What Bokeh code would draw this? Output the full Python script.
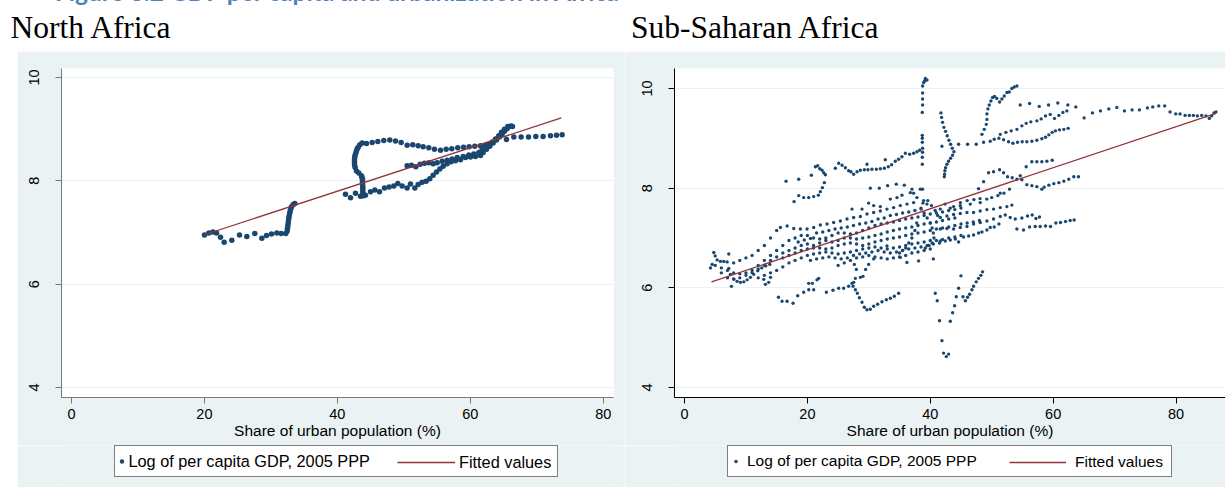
from bokeh.plotting import figure
from bokeh.models import Range1d, FixedTicker, Legend, LegendItem, Div
from bokeh.layouts import column, row
from bokeh.embed import file_html
from bokeh.resources import INLINE

# ---------------- text ----------------
CAPTION = "Figure 3.2 GDP per capita and urbanization in Africa"
TITLE_NA = "North Africa"
TITLE_SSA = "Sub-Saharan Africa"
X_LABEL = "Share of urban population (%)"
SERIES_LABEL = "Log of per capita GDP, 2005 PPP"
FIT_LABEL = "Fitted values"

X_TICKS = [0, 20, 40, 60, 80]
Y_TICKS = [4, 6, 8, 10]

# ---------------- North Africa data (urban share %, log GDP pc) ----------------
na_low = [(20.01, 6.95), (20.66, 6.99), (21.27, 7.01), (21.82, 6.99), (22.42, 6.91), (22.97, 6.81),
          (24.12, 6.85), (25.28, 6.95), (26.38, 6.92), (27.58, 6.98), (28.64, 6.89), (29.34, 6.94),
          (30.09, 6.97), (30.89, 6.99), (31.55, 6.98), (32.25, 6.98), (32.45, 7.03), (32.50, 7.08),
          (32.55, 7.13), (32.60, 7.18), (32.65, 7.23), (32.70, 7.28), (32.75, 7.32), (32.83, 7.37),
          (32.91, 7.42), (33.00, 7.46), (33.10, 7.50), (33.36, 7.54), (33.60, 7.56)]
na_loop = [(43.88, 7.71), (43.85, 7.75), (43.83, 7.79), (43.83, 7.83), (43.83, 7.87), (43.80, 7.91),
           (43.78, 7.95), (43.78, 7.99), (43.78, 8.03), (43.70, 8.07), (43.63, 8.10), (43.23, 8.15),
           (42.88, 8.19), (42.68, 8.26), (42.60, 8.30), (42.58, 8.34), (42.58, 8.38), (42.58, 8.42),
           (42.62, 8.46), (42.68, 8.50), (42.78, 8.54), (42.88, 8.58), (43.00, 8.62), (43.13, 8.65),
           (43.38, 8.70), (43.73, 8.73), (44.38, 8.72), (45.24, 8.74), (46.09, 8.76), (46.99, 8.78),
           (47.89, 8.79), (48.75, 8.77), (49.60, 8.74), (50.50, 8.69), (51.35, 8.70), (52.16, 8.68),
           (52.91, 8.66), (53.76, 8.64), (54.61, 8.61), (55.52, 8.59), (56.37, 8.61), (57.22, 8.62),
           (58.12, 8.64), (58.98, 8.65), (59.83, 8.66), (60.68, 8.67), (61.54, 8.68), (62.29, 8.69),
           (65.45, 8.80), (66.55, 8.85), (67.65, 8.85), (68.76, 8.85), (69.86, 8.86), (70.96, 8.86),
           (72.07, 8.87), (72.97, 8.88), (73.82, 8.89)]
na_rise = [(41.22, 7.74), (41.98, 7.67), (42.73, 7.76), (43.48, 7.70), (44.23, 7.72), (44.99, 7.79),
           (45.64, 7.82), (46.34, 7.79), (47.09, 7.86), (47.79, 7.88), (48.50, 7.90), (49.10, 7.95),
           (49.75, 7.90), (50.50, 7.86), (51.00, 7.94), (51.66, 7.86), (52.16, 7.93), (52.76, 7.97),
           (53.36, 7.99), (53.91, 8.04), (54.41, 8.11), (54.92, 8.17), (55.42, 8.23), (55.92, 8.28),
           (56.52, 8.33), (57.12, 8.37), (57.77, 8.39), (58.53, 8.41), (59.28, 8.45), (60.03, 8.46),
           (60.78, 8.47), (61.54, 8.49), (61.94, 8.55), (62.44, 8.61), (62.94, 8.67), (63.44, 8.73),
           (63.94, 8.79), (64.39, 8.85), (64.79, 8.90), (65.14, 8.96), (65.55, 9.01), (65.95, 9.05),
           (66.35, 9.05)]
na_mid = [(50.50, 8.29), (51.16, 8.30), (51.81, 8.27), (52.46, 8.32), (53.11, 8.34), (53.76, 8.35),
          (54.41, 8.33), (55.02, 8.35), (55.77, 8.38), (56.52, 8.40), (57.27, 8.42), (58.03, 8.45),
          (58.93, 8.47), (59.78, 8.50), (60.53, 8.52), (61.29, 8.55), (61.79, 8.61), (62.29, 8.66),
          (62.79, 8.71), (63.29, 8.75), (63.79, 8.81), (64.29, 8.87), (64.69, 8.94), (65.14, 9.00),
          (65.65, 9.05), (66.15, 9.06)]
na_fit_x = [20.0, 73.7]
na_fit_y = [6.956, 9.217]

# ---------------- Sub-Saharan Africa data ----------------
ssa_col39 = [(39.19, 10.20), (39.46, 10.17), (39.08, 10.15), (38.92, 10.12), (38.75, 10.05), (38.75, 9.91),
             (38.75, 9.79), (38.75, 9.67), (38.70, 9.52), (38.70, 9.06), (38.70, 9.00), (38.70, 8.92),
             (38.75, 8.80), (38.75, 8.72), (38.70, 8.62), (38.70, 8.48)]
ssa_curve42 = [(41.73, 9.51), (41.84, 9.42), (42.00, 9.32), (42.22, 9.22), (42.49, 9.14), (42.76, 9.05),
               (43.04, 8.96), (43.31, 8.88), (43.58, 8.80), (43.85, 8.73), (43.63, 8.66), (43.31, 8.60),
               (42.98, 8.54), (42.71, 8.48), (42.49, 8.41), (42.38, 8.35), (42.33, 8.28), (42.28, 8.23),
               (41.90, 8.84)]
ssa_loop22 = [(16.53, 8.14), (18.59, 8.18), (20.65, 8.26), (21.30, 8.43), (21.68, 8.45), (22.01, 8.39),
              (22.39, 8.36), (22.66, 8.31), (22.93, 8.27), (22.76, 8.11), (22.44, 8.01), (22.11, 7.93),
              (21.79, 7.86), (21.03, 7.83), (20.22, 7.81), (19.40, 7.81), (18.59, 7.85), (17.83, 7.73)]
ssa_row84 = [(24.55, 8.40), (25.10, 8.50), (25.64, 8.46), (26.18, 8.41), (26.72, 8.35), (27.10, 8.33),
             (27.53, 8.28), (28.08, 8.33), (28.62, 8.36), (29.27, 8.37), (29.86, 8.37), (30.51, 8.38),
             (31.22, 8.38), (31.87, 8.39), (32.52, 8.40), (33.17, 8.43), (33.71, 8.47), (34.31, 8.54),
             (34.85, 8.58), (35.39, 8.63), (35.94, 8.70), (36.64, 8.68), (37.29, 8.70), (37.83, 8.73),
             (38.27, 8.76), (29.70, 8.48), (32.68, 8.57)]
ssa_hi50 = [(48.41, 9.08), (48.78, 9.18), (49.11, 9.28), (49.22, 9.38), (49.22, 9.49), (49.38, 9.59),
            (49.60, 9.67), (49.87, 9.75), (50.14, 9.82), (50.46, 9.84), (50.84, 9.80), (51.28, 9.73),
            (51.66, 9.79), (52.04, 9.85), (52.47, 9.92), (52.85, 9.93), (53.28, 10.00), (53.66, 10.03),
            (54.10, 10.05)]
ssa_row90 = [(44.61, 8.88), (46.07, 8.88), (47.48, 8.88), (48.68, 8.92), (49.76, 8.94), (50.41, 8.98),
             (51.17, 9.00), (51.93, 8.97), (52.74, 8.93), (53.45, 8.90), (54.20, 8.92), (54.96, 8.93),
             (55.72, 8.93), (56.54, 8.94), (57.35, 8.96), (58.16, 8.99), (58.76, 9.02), (59.30, 9.07),
             (59.84, 9.12), (60.38, 9.15), (61.03, 9.17), (61.74, 9.18), (62.44, 9.20)]
ssa_rise92 = [(51.39, 9.08), (52.31, 9.12), (53.17, 9.15), (54.10, 9.18), (54.91, 9.25), (55.61, 9.30),
              (56.37, 9.33), (57.35, 9.35), (58.05, 9.39), (58.76, 9.45), (59.52, 9.48), (60.22, 9.40),
              (60.93, 9.46), (61.58, 9.52), (62.23, 9.55)]
ssa_top97 = [(54.64, 9.67), (56.16, 9.70), (57.73, 9.64), (59.25, 9.67), (60.76, 9.71), (62.39, 9.67),
             (63.69, 9.63)]
ssa_far = [(65.04, 9.41), (66.40, 9.51), (67.70, 9.55), (69.06, 9.59), (70.36, 9.62), (71.60, 9.55),
           (72.85, 9.57), (74.04, 9.57), (75.34, 9.61), (76.21, 9.63), (77.19, 9.65), (78.16, 9.65),
           (79.03, 9.53), (79.95, 9.49), (80.65, 9.49), (81.47, 9.46), (82.17, 9.46), (82.82, 9.46),
           (83.47, 9.45), (84.18, 9.46), (84.88, 9.45), (85.42, 9.40), (85.80, 9.45), (86.18, 9.51),
           (86.50, 9.53)]
ssa_mid55 = [(56.53, 8.53), (57.35, 8.53), (58.16, 8.53), (58.98, 8.54), (59.84, 8.56), (55.61, 8.43),
             (54.64, 8.25), (49.49, 8.31), (50.30, 8.33), (51.28, 8.37), (51.93, 8.31), (52.58, 8.23),
             (53.34, 8.21), (54.10, 8.18), (54.91, 8.17), (55.72, 8.07), (56.54, 8.05), (57.35, 8.03),
             (58.16, 7.98), (58.54, 8.02), (59.30, 8.06), (60.11, 8.09), (60.93, 8.11), (61.74, 8.14),
             (62.55, 8.18), (63.36, 8.23), (64.12, 8.23), (48.68, 8.13), (47.86, 7.99), (52.90, 7.98),
             (51.39, 7.90)]
ssa_low_right = [(54.10, 7.18), (55.18, 7.16), (56.16, 7.22), (57.08, 7.23), (57.89, 7.23), (58.76, 7.24),
                 (59.57, 7.23), (60.44, 7.30), (61.20, 7.31), (62.01, 7.33), (62.77, 7.35), (63.42, 7.36),
                 (53.01, 7.41), (53.83, 7.38), (54.91, 7.40), (55.83, 7.44), (56.59, 7.46), (57.19, 7.39),
                 (57.78, 7.42)]
ssa_rows42 = [(41.63, 6.94), (42.44, 6.94), (43.26, 6.96), (44.07, 6.98), (44.61, 6.92), (45.42, 7.02),
              (46.24, 7.04), (47.05, 7.06), (47.86, 7.10), (48.41, 7.12), (49.22, 7.16), (49.76, 7.21),
              (50.41, 7.22), (51.17, 7.28), (41.63, 7.18), (42.71, 7.19), (43.80, 7.18), (44.88, 7.21),
              (45.97, 7.23), (47.05, 7.28), (48.13, 7.31), (49.22, 7.34), (50.30, 7.38), (51.39, 7.43),
              (52.20, 7.46), (41.63, 7.41), (42.71, 7.44), (43.80, 7.47), (44.88, 7.49), (45.97, 7.51),
              (47.05, 7.51), (48.13, 7.54), (49.22, 7.57), (50.30, 7.58), (51.39, 7.61), (52.47, 7.63),
              (53.28, 7.66), (41.63, 7.58), (43.26, 7.60), (44.88, 7.65), (46.51, 7.68), (48.13, 7.71),
              (42.40, 7.68), (43.80, 7.63), (44.90, 7.71), (46.00, 7.75), (47.10, 7.77), (48.10, 7.79),
              (49.20, 7.78), (50.00, 7.81), (51.00, 7.85), (52.00, 7.90)]
ssa_drop = [(44.99, 6.24), (44.61, 5.99), (44.23, 5.82), (43.96, 5.64), (43.64, 5.50), (43.26, 5.33),
            (41.90, 4.94), (42.17, 4.69), (42.61, 4.62), (42.99, 4.67), (45.32, 5.82), (45.70, 5.74),
            (46.07, 5.81), (46.40, 5.87), (46.78, 5.96), (47.05, 6.03), (47.48, 6.12), (47.86, 6.19),
            (48.24, 6.25), (48.51, 6.32), (40.81, 5.89), (41.13, 5.74), (41.50, 5.34)]
ssa_hook = [(27.53, 6.11), (27.43, 6.03), (27.81, 5.96), (28.13, 5.89), (28.46, 5.80), (28.89, 5.71),
            (29.27, 5.61), (29.70, 5.56), (30.24, 5.57), (30.79, 5.63), (31.44, 5.67), (32.14, 5.72),
            (32.85, 5.76), (33.50, 5.79), (34.15, 5.83), (34.85, 5.89)]
ssa_low_row = [(20.22, 6.09), (20.81, 6.09), (21.57, 6.16), (21.84, 6.19), (21.03, 5.96), (20.22, 5.96),
               (19.40, 5.91), (18.43, 5.84), (17.67, 5.69), (16.69, 5.73), (15.88, 5.73), (15.29, 5.81),
               (23.09, 5.91), (24.17, 5.95), (25.09, 5.99), (25.91, 5.99), (26.72, 6.03), (27.26, 6.09),
               (27.81, 6.19), (28.62, 6.21), (29.05, 6.23), (29.48, 6.37), (29.97, 6.47), (30.79, 6.58),
               (27.64, 6.47), (27.97, 6.37), (7.64, 6.03), (13.71, 6.11), (13.17, 6.07), (14.00, 6.21),
               (12.90, 6.17)]
ssa_left = [(4.77, 6.71), (4.99, 6.64), (5.31, 6.56), (5.85, 6.53), (6.40, 6.53), (4.50, 6.47), (4.23, 6.40),
            (7.21, 6.68), (6.94, 6.52), (7.21, 6.39), (7.48, 6.27), (8.02, 6.17), (8.56, 6.13), (9.11, 6.11),
            (9.65, 6.12), (10.19, 6.16), (10.73, 6.21), (11.27, 6.27), (11.92, 6.34), (12.57, 6.40),
            (13.23, 6.44), (13.88, 6.47)]
ssa_band_top = [(15.61, 7.21), (16.70, 7.24), (17.78, 7.19), (18.86, 7.18), (19.95, 7.18), (21.03, 7.21),
                (22.11, 7.26), (23.20, 7.28), (24.28, 7.31), (25.37, 7.34), (26.45, 7.38), (27.53, 7.41),
                (28.62, 7.43), (29.70, 7.48), (30.79, 7.51), (31.87, 7.54), (32.95, 7.58), (34.04, 7.61),
                (35.12, 7.65), (36.21, 7.68), (37.29, 7.71), (8.0, 6.50), (9.0, 6.55), (10.0, 6.60),
                (11.0, 6.65), (12.0, 6.75), (13.0, 6.85), (14.0, 7.00), (15.0, 7.15)]
ssa_band_b = [(5, 6.45), (6, 6.40), (7, 6.35), (8, 6.30), (9, 6.28), (10, 6.30), (11, 6.35), (12, 6.45),
              (13, 6.55), (14, 6.65), (15, 6.75), (16, 6.85), (17, 6.95), (18, 7.00), (19, 7.05), (20, 7.05),
              (21, 7.00), (22, 6.98), (23, 7.00), (24, 7.05), (25, 7.10), (26, 7.10), (27, 7.08), (28, 7.10),
              (29, 7.15), (30, 7.20), (31, 7.25), (32, 7.28), (33, 7.30), (34, 7.32), (35, 7.35), (36, 7.38),
              (37, 7.40), (38, 7.42), (39, 7.45), (40, 7.48), (41, 7.50), (42, 7.52), (43, 7.55), (44, 7.57),
              (45, 7.60)]
ssa_band_c = [(6, 6.30), (7, 6.20), (8, 6.18), (9, 6.20), (10, 6.25), (11, 6.30), (12, 6.38), (13, 6.45),
              (14, 6.55), (15, 6.62), (16, 6.70), (17, 6.75), (18, 6.80), (19, 6.85), (20, 6.88), (21, 6.85),
              (22, 6.80), (23, 6.78), (24, 6.80), (25, 6.85), (26, 6.88), (27, 6.90), (28, 6.88), (29, 6.85),
              (30, 6.88), (31, 6.92), (32, 6.95), (33, 6.98), (34, 7.00), (35, 7.02), (36, 7.05), (37, 7.08),
              (38, 7.10), (39, 7.12), (40, 7.15), (41, 7.18), (42, 7.20), (43, 7.22), (44, 7.25), (45, 7.28),
              (46, 7.30), (47, 7.32), (48, 7.35)]
ssa_band_d = [(12, 6.20), (13, 6.25), (14, 6.30), (15, 6.35), (16, 6.42), (17, 6.50), (18, 6.55), (19, 6.60),
              (20, 6.65), (21, 6.68), (22, 6.70), (23, 6.72), (24, 6.70), (25, 6.68), (26, 6.70), (27, 6.72),
              (28, 6.75), (29, 6.78), (30, 6.80), (31, 6.82), (32, 6.80), (33, 6.78), (34, 6.80), (35, 6.82),
              (36, 6.85), (37, 6.88), (38, 6.90), (39, 6.92), (40, 6.95), (41, 6.95), (42, 6.97), (43, 7.00),
              (44, 7.02), (45, 7.05)]
ssa_band_e = [(16, 6.60), (17, 6.65), (18, 6.70), (19, 6.75), (20, 6.78), (21, 6.80), (22, 6.90), (23, 6.95),
              (24, 6.92), (25, 6.95), (26, 7.00), (27, 7.00), (28, 6.98), (29, 7.00), (30, 7.02), (31, 7.05),
              (32, 7.08), (33, 7.12), (34, 7.15), (35, 7.18), (36, 7.20), (37, 7.22), (38, 7.25), (39, 7.28),
              (40, 7.30), (41, 7.32), (42, 7.35), (43, 7.38), (44, 7.40)]
ssa_band_f = [(25, 6.45), (26, 6.50), (27, 6.55), (28, 6.60), (29, 6.62), (30, 6.65), (31, 6.62), (32, 6.60),
              (33, 6.58), (34, 6.60), (35, 6.62), (36, 6.65), (37, 6.70), (38, 6.72), (39, 6.75), (40, 6.78),
              (32.95, 6.84), (35.12, 6.61), (36.20, 6.51), (38.10, 6.54), (40.50, 6.58)]
ssa_band_g = [(18.5, 6.92), (19.5, 6.96), (20.5, 6.99), (21.5, 7.10), (22.5, 7.12), (23.5, 7.15), (24.5, 7.18),
              (25.5, 7.20), (26.5, 7.22), (27.5, 7.25), (28.5, 7.28), (29.5, 7.30), (30.5, 7.33), (31.5, 7.38),
              (32.5, 7.40), (33.5, 7.45), (34.5, 7.47), (35.5, 7.50), (36.5, 7.52), (37.5, 7.55), (38.5, 7.58)]
ssa_band_h = [(20.5, 6.55), (21.5, 6.58), (22.5, 6.60), (23.5, 6.62), (24.5, 6.60), (25.5, 6.58), (26.5, 6.60),
              (27.5, 6.65), (28.5, 6.68), (29.5, 6.70), (30.5, 6.72), (31.5, 6.75), (32.5, 6.72), (33.5, 6.70),
              (34.5, 6.72), (35.5, 6.75), (36.5, 6.78), (37.5, 6.80), (38.5, 6.82), (39.5, 6.85), (40.5, 6.88),
              (41.5, 6.90)]
ssa_cluster40 = [(38.5, 7.60), (39.0, 7.50), (39.5, 7.40), (40.0, 7.30), (40.3, 7.20), (40.5, 7.10),
                 (40.6, 7.00), (40.3, 6.90), (39.8, 6.85), (39.2, 6.80), (38.8, 7.70), (39.6, 7.75),
                 (40.2, 7.65), (40.8, 7.55), (41.2, 7.45), (37.8, 7.30), (37.5, 7.15), (37.0, 7.00),
                 (36.5, 6.90), (36.0, 6.80), (35.5, 6.75), (35.0, 6.70)]
ssa_upper_band = [(30.24, 8.00), (31.70, 8.00), (33.06, 8.05), (34.47, 8.08), (35.77, 8.06), (37.02, 7.98),
                  (37.29, 7.90), (37.83, 7.81), (38.38, 7.98), (38.75, 7.98), (27.26, 7.58), (28.89, 7.58),
                  (29.97, 7.70), (30.79, 7.65), (31.87, 7.63), (33.50, 7.78), (34.58, 7.81), (35.39, 7.86),
                  (36.75, 7.91), (38.92, 7.75), (39.46, 7.68)]
ssa_fit_x = [4.4, 86.5]
ssa_fit_y = [6.12, 9.50]

NA_GROUPS = [na_low, na_loop, na_rise, na_mid]
SSA_GROUPS = [ssa_col39, ssa_curve42, ssa_loop22, ssa_row84, ssa_hi50, ssa_row90, ssa_rise92, ssa_top97,
              ssa_far, ssa_mid55, ssa_low_right, ssa_rows42, ssa_drop, ssa_hook, ssa_low_row, ssa_left,
              ssa_band_top, ssa_band_b, ssa_band_c, ssa_band_d, ssa_band_e, ssa_band_f, ssa_band_g,
              ssa_band_h, ssa_cluster40, ssa_upper_band]

# ---------------- styles ----------------
GRAY = "#eaf2f3"
NAVY = "#1a476f"
MAROON = "#90353b"
SANS = "Liberation Sans"
TOTAL_W = 1225
HEAD_H = 49
PLOT_H = 394
LEG_H = 44


def flatten(groups):
    return [pt[0] for g in groups for pt in g], [pt[1] for g in groups for pt in g]


def make_panel(groups, fit_x, fit_y, x_rng, y_rng, width, mb_left, mb_right, axis_color, dot_size):
    xs, ys = flatten(groups)
    p = figure(width=width, height=PLOT_H, x_range=Range1d(*x_rng), y_range=Range1d(*y_rng),
               output_backend="svg", toolbar_location=None,
               min_border_left=mb_left, min_border_right=mb_right,
               min_border_top=17, min_border_bottom=PLOT_H - 17 - 329,
               background_fill_color="white", border_fill_color=GRAY, outline_line_color=None)
    p.scatter(xs, ys, marker="circle", size=dot_size, fill_color=NAVY, line_color=None)
    p.line(fit_x, fit_y, line_color=MAROON, line_width=1.3)

    p.xaxis.ticker = FixedTicker(ticks=X_TICKS)
    p.yaxis.ticker = FixedTicker(ticks=Y_TICKS)
    p.ygrid.ticker = FixedTicker(ticks=Y_TICKS)
    for ax in (p.xaxis[0], p.yaxis[0]):
        ax.axis_line_color = axis_color
        ax.major_tick_line_color = axis_color
        ax.major_tick_out = 6
        ax.major_tick_in = 0
        ax.minor_tick_line_color = None
        ax.major_label_text_font = SANS
        ax.major_label_text_font_size = "14.5px"
        ax.major_label_text_color = "black"
    p.yaxis.major_label_orientation = "vertical"
    p.yaxis.major_label_standoff = 16
    p.xaxis.major_label_standoff = 5
    p.xaxis.axis_label = X_LABEL
    p.xaxis.axis_label_text_font = SANS
    p.xaxis.axis_label_text_font_style = "normal"
    p.xaxis.axis_label_text_font_size = "15.5px"
    p.xaxis.axis_label_text_color = "black"
    p.xaxis.axis_label_standoff = 0
    p.xgrid.visible = False
    p.ygrid.grid_line_color = GRAY
    p.ygrid.grid_line_width = 1
    return p


def make_legend_strip(groups, fit_x, fit_y, width, dot_size, leg_a, leg_b, font_size):
    # the strip holds the same series, drawn off-range, so that its legend shows their glyphs
    xs, ys = flatten(groups)
    s = figure(width=width, height=LEG_H, x_range=Range1d(-30, -20), y_range=Range1d(-30, -20),
               output_backend="svg", toolbar_location=None, x_axis_type=None, y_axis_type=None,
               min_border=0, min_border_left=0, min_border_right=0, min_border_top=0, min_border_bottom=0,
               background_fill_color=GRAY, border_fill_color=GRAY, outline_line_color=None)
    s.xgrid.visible = False
    s.ygrid.visible = False
    dots = s.scatter(xs, ys, marker="circle", size=dot_size, fill_color=NAVY, line_color=None)
    fit = s.line(fit_x, fit_y, line_color=MAROON, line_width=1.3)
    la = Legend(items=[LegendItem(label=SERIES_LABEL, renderers=[dots])],
                location=leg_a["loc"], padding=leg_a["pad"], margin=0, spacing=0,
                glyph_width=leg_a["gw"], glyph_height=leg_a["h"], label_height=leg_a["h"],
                label_width=leg_a["lw"], label_standoff=leg_a["so"],
                border_line_color="black", border_line_width=1,
                background_fill_color="white", background_fill_alpha=1.0,
                label_text_font=SANS, label_text_font_size=font_size, label_text_color="black")
    lb = Legend(items=[LegendItem(label=FIT_LABEL, renderers=[fit])],
                location=leg_b["loc"], padding=0, margin=0, spacing=0,
                glyph_width=leg_b["gw"], glyph_height=30, label_height=30,
                label_standoff=leg_b["so"], border_line_color=None, background_fill_alpha=0.0,
                label_text_font=SANS, label_text_font_size=font_size, label_text_color="black")
    s.add_layout(la)
    s.add_layout(lb)
    return s


p_na = make_panel(NA_GROUPS, na_fit_x, na_fit_y, (-1.505, 81.55), (3.806, 10.174), 608, 44, 12,
                  "#777777", 5.5)
p_ssa = make_panel(SSA_GROUPS, ssa_fit_x, ssa_fit_y, (-1.628, 88.05), (3.799, 10.401), 600, 49, 0,
                   "black", 3.4)
# legend strips: their frame is aligned with the plot frame above (x offsets from frame left)
l_na = make_legend_strip(NA_GROUPS, na_fit_x, na_fit_y, 608, 5.5,
                         dict(loc=(52.5, 12), pad=1, gw=11, h=28, lw=427, so=2),
                         dict(loc=(336, 12), gw=58, so=4), "16.3px")
l_ssa = make_legend_strip(SSA_GROUPS, ssa_fit_x, ssa_fit_y, 600, 3.4,
                          dict(loc=(53, 12), pad=3, gw=9, h=24, lw=421, so=7),
                          dict(loc=(335, 12), gw=57, so=9), "15.5px")

header_html = (
    '<div style="position:relative;width:1225px;height:49px;margin:0;padding:0;">'
    '<div style="position:absolute;left:50px;top:-17.5px;white-space:nowrap;font-family:Lato,sans-serif;'
    'font-weight:bold;font-size:24.5px;line-height:24.5px;color:#4f81bd;">' + CAPTION + '</div>'
    '<div style="position:absolute;left:5.5px;top:15px;white-space:nowrap;'
    "font-family:'Liberation Serif',serif;font-size:31.5px;line-height:31.5px;color:#000;\">"
    + TITLE_NA + '</div>'
    '<div style="position:absolute;left:626px;top:15px;white-space:nowrap;'
    "font-family:'Liberation Serif',serif;font-size:31.5px;line-height:31.5px;color:#000;\">"
    + TITLE_SSA + '</div>'
    '</div>'
)
header = Div(text=header_html, width=TOTAL_W, height=HEAD_H)

panels = row(column(p_na, l_na, margin=(0, 0, 0, 17)), column(p_ssa, l_ssa), width=TOTAL_W)
layout = column(header, panels, width=TOTAL_W, margin=(-8, 0, -8, 0))

open("out.html", "w").write(file_html(layout, INLINE))
